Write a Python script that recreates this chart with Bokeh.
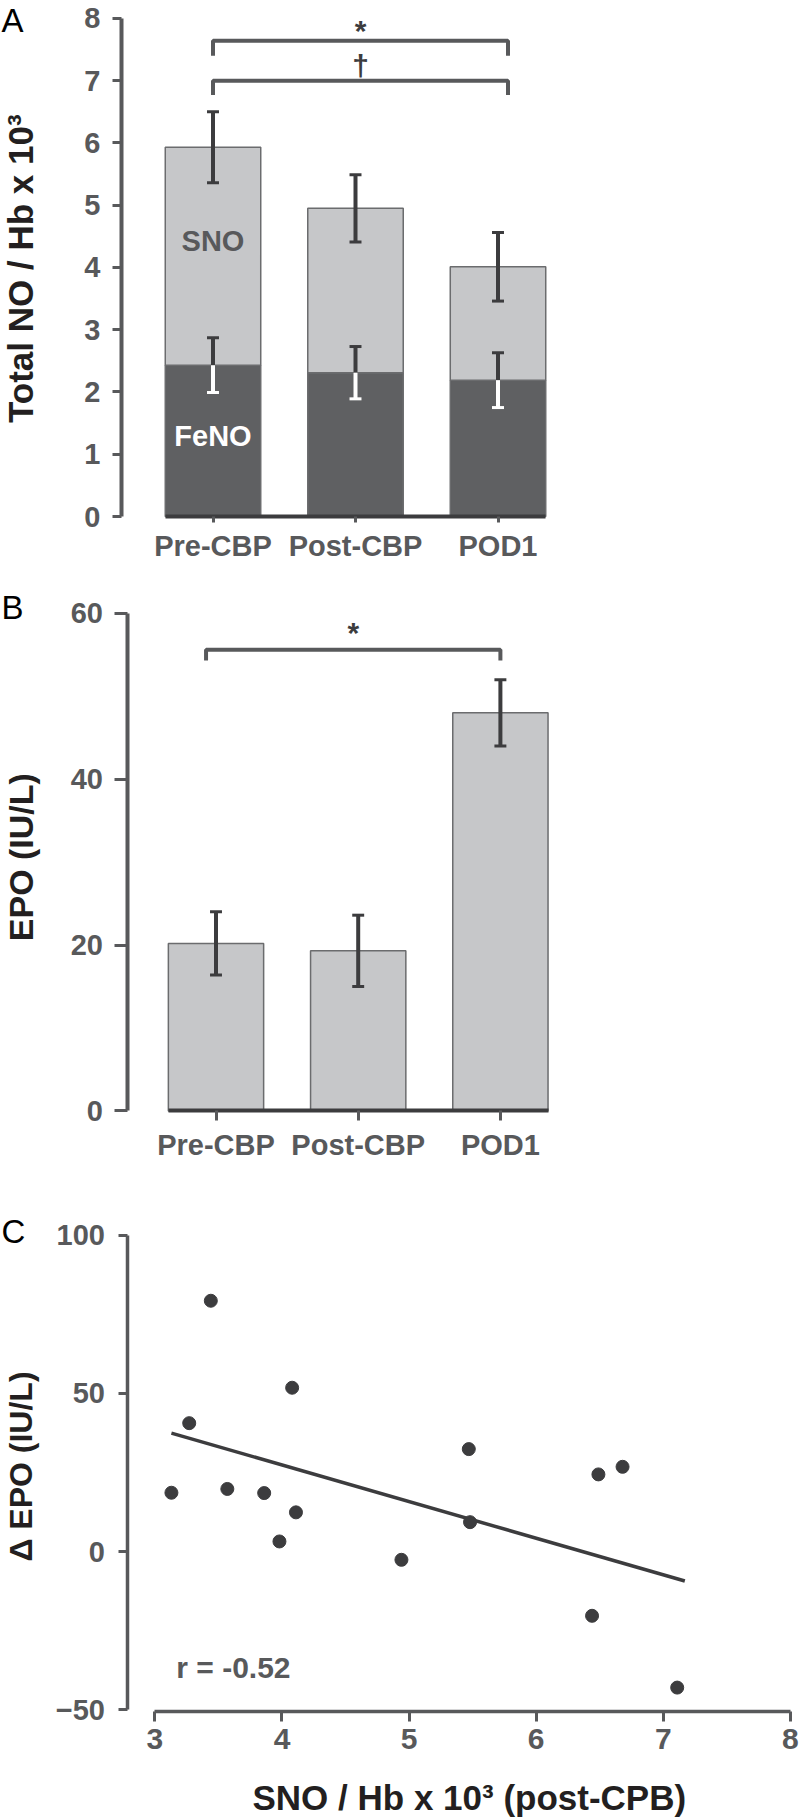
import numpy as np
from bokeh.plotting import figure
from bokeh.layouts import column
from bokeh.models import Range1d, FixedTicker, Label
from bokeh.embed import file_html
from bokeh.resources import INLINE

# ---------------- data ----------------
categories = ["Pre-CBP", "Post-CBP", "POD1"]

# Panel A: Total NO / Hb x 10^3 (stacked FeNO + SNO)
feno_mean = [2.43, 2.31, 2.19]
feno_err = [0.44, 0.42, 0.44]
sno_mean = [3.50, 2.64, 1.82]
total_err = [0.57, 0.54, 0.55]
a_yticks = [0, 1, 2, 3, 4, 5, 6, 7, 8]
a_bracket_pairs = [(0, 2.07), (0, 2.07)]
a_bracket_top = [7.64, 7.00]
a_bracket_leg = [7.40, 6.77]
a_bracket_sym = ["*", "\u2020"]
a_sym_y = [7.80, 7.25]

# Panel B: EPO (IU/L)
epo_mean = [20.2, 19.3, 48.0]
epo_err = [3.8, 4.3, 4.0]
b_yticks = [0, 20, 40, 60]
b_bracket_pairs = [(-0.07, 2.0)]
b_bracket_top = [55.6]
b_bracket_leg = [54.3]
b_bracket_sym = ["*"]
b_sym_y = [57.7]

# Panel C: delta EPO vs SNO/Hb (post-CPB)
sno_post = [3.13, 3.27, 3.44, 3.57, 3.86, 3.98, 4.08, 4.11, 4.94, 5.47, 5.48, 6.44, 6.49, 6.68, 7.11]
delta_epo = [18.6, 40.6, 79.3, 19.8, 18.5, 3.2, 51.8, 12.4, -2.6, 32.4, 9.3, -20.3, 24.4, 26.8, -43.0]
c_xticks = [3, 4, 5, 6, 7, 8]
c_yticks = [-50, 0, 50, 100]
r_text = "r = -0.52"

# ---------------- style ----------------
FONT = "Liberation Sans"
GRAY = "#58595b"
DARK = "#3c3c3e"
BLACK = "#231f20"
LIGHT_BAR = "#c6c7c9"
DARK_BAR = "#5f6062"
OUTLINE = "#6b6c6e"
BAR_W = 0.67
W = 799


def make_fig(h, xr, yr):
    p = figure(width=W, height=h, min_border=0, min_border_left=0,
               min_border_right=0, min_border_top=0, min_border_bottom=0,
               x_range=Range1d(*xr), y_range=Range1d(*yr),
               output_backend="svg", toolbar_location=None, tools="")
    p.outline_line_color = None
    p.xgrid.visible = False
    p.ygrid.visible = False
    p.background_fill_color = "white"
    p.border_fill_color = "white"
    return p


def style_axis(ax, loc, ticks, bounds, line_w, line_c, tick_out, label_size, standoff):
    ax.fixed_location = loc
    ax.ticker = FixedTicker(ticks=ticks)
    ax.bounds = bounds
    ax.axis_line_width = line_w
    ax.axis_line_color = line_c
    ax.major_tick_in = 0
    ax.major_tick_out = tick_out
    ax.major_tick_line_width = 3
    ax.major_tick_line_color = GRAY
    ax.minor_tick_line_color = None
    ax.major_label_text_font = FONT
    ax.major_label_text_font_style = "bold"
    ax.major_label_text_font_size = label_size
    ax.major_label_text_color = GRAY
    ax.major_label_standoff = standoff


def text_label(p, x, y, text, size, color=GRAY, bold=True, align="center",
               baseline="middle", angle=0.0):
    p.add_layout(Label(x=x, y=y, text=text, text_font=FONT,
                       text_font_style="bold" if bold else "normal",
                       text_font_size=size, text_color=color, text_align=align,
                       text_baseline=baseline, angle=angle))


def error_bars(p, xs, lo, hi, color, cap_lo=True, cap_hi=True, half=0.042, width=4):
    xs = np.asarray(xs, float)
    lo = np.asarray(lo, float)
    hi = np.asarray(hi, float)
    p.segment(xs, lo, xs, hi, line_color=color, line_width=width)
    if cap_hi:
        p.segment(xs - half, hi, xs + half, hi, line_color=color, line_width=3)
    if cap_lo:
        p.segment(xs - half, lo, xs + half, lo, line_color=color, line_width=3)


def brackets(p, pairs, tops, legs, syms, sym_y):
    for (a, b), t, l, s, sy in zip(pairs, tops, legs, syms, sym_y):
        p.line([a, a, b, b], [l, t, t, l], line_color=GRAY, line_width=4)
        text_label(p, (a + b) / 2, sy, s, "30px", color=DARK)


xs = np.arange(len(categories), dtype=float)
cat_labels = {i: c for i, c in enumerate(categories)}

# ---------------- Panel A ----------------
a_px_x, a_px_y, a_h = 142.5, 62.27, 568
a_xr = (-212.5 / a_px_x, -212.5 / a_px_x + W / a_px_x)
a_yr = (8.287 - a_h / a_px_y, 8.287)
a_axis_x = (121 - 212.5) / a_px_x
pa = make_fig(a_h, a_xr, a_yr)
feno = np.asarray(feno_mean)
total = feno + np.asarray(sno_mean)
pa.vbar(x=xs, width=BAR_W, bottom=0, top=feno, fill_color=DARK_BAR,
        line_color=OUTLINE, line_width=1.5)
pa.vbar(x=xs, width=BAR_W, bottom=feno, top=total, fill_color=LIGHT_BAR,
        line_color=OUTLINE, line_width=1.5)
error_bars(pa, xs, total - np.asarray(total_err), total + np.asarray(total_err), DARK)
error_bars(pa, xs, feno, feno + np.asarray(feno_err), DARK, cap_lo=False)
error_bars(pa, xs, feno - np.asarray(feno_err), feno, "white", cap_hi=False)
brackets(pa, a_bracket_pairs, a_bracket_top, a_bracket_leg, a_bracket_sym, a_sym_y)
text_label(pa, xs[0], 4.43, "SNO", "29px", color=GRAY)
text_label(pa, xs[0], 1.30, "FeNO", "29px", color="white")

style_axis(pa.yaxis[0], a_axis_x, a_yticks, (a_yticks[0], a_yticks[-1]), 4, GRAY, 9, "29px", 12)
style_axis(pa.xaxis[0], 0, list(xs), (xs[0] - BAR_W / 2, xs[-1] + BAR_W / 2), 4, DARK, 6, "29px", 7)
pa.xaxis[0].major_label_overrides = cat_labels
text_label(pa, a_xr[0] + 20 / a_px_x, 3.98, "Total NO / Hb x 10\u00b3", "35px",
           color=BLACK, angle=np.pi / 2)
text_label(pa, a_xr[0] + 1 / a_px_x, a_yr[1] - 1 / a_px_y, "A", "33px", color="black",
           bold=False, align="left", baseline="top")

# ---------------- Panel B ----------------
b_px_x, b_px_y, b_h = 142.2, 8.292, 607
b_xr = (-215.5 / b_px_x, -215.5 / b_px_x + W / b_px_x)
b_yr = (65.41 - b_h / b_px_y, 65.41)
b_axis_x = (127.4 - 215.5) / b_px_x
pb = make_fig(b_h, b_xr, b_yr)
epo = np.asarray(epo_mean)
pb.vbar(x=xs, width=BAR_W, bottom=0, top=epo, fill_color=LIGHT_BAR,
        line_color=OUTLINE, line_width=1.5)
error_bars(pb, xs, epo - np.asarray(epo_err), epo + np.asarray(epo_err), DARK)
brackets(pb, b_bracket_pairs, b_bracket_top, b_bracket_leg, b_bracket_sym, b_sym_y)
style_axis(pb.yaxis[0], b_axis_x, b_yticks, (b_yticks[0], b_yticks[-1]), 4, GRAY, 13, "29px", 12)
style_axis(pb.xaxis[0], 0, list(xs), (xs[0] - BAR_W / 2, xs[-1] + BAR_W / 2), 4, DARK, 10, "29px", 8)
pb.xaxis[0].major_label_overrides = cat_labels
text_label(pb, b_xr[0] + 20 / b_px_x, 30.6, "EPO (IU/L)", "34px",
           color=BLACK, angle=np.pi / 2)
text_label(pb, b_xr[0] + 1 / b_px_x, 62.88, "B", "33px", color="black",
           bold=False, align="left", baseline="top")

# ---------------- Panel C ----------------
c_px_x, c_px_y, c_h = 127.08, 3.163, 643
c_xr = (3 - 154.4 / c_px_x, 3 - 154.4 / c_px_x + W / c_px_x)
c_yr = (118.9 - c_h / c_px_y, 118.9)
c_axis_x = 3 - 27 / c_px_x
c_axis_y = -50.6
pc = make_fig(c_h, c_xr, c_yr)
sx = np.asarray(sno_post)
sy = np.asarray(delta_epo)
slope, intercept = np.polyfit(sx, sy, 1)
fit_x = np.array([sx.min(), sx.max() + 0.06])
pc.line(fit_x, slope * fit_x + intercept, line_color=DARK, line_width=3.5)
pc.scatter(sx, sy, marker="circle", size=13, fill_color=DARK, line_color=DARK)
style_axis(pc.yaxis[0], c_axis_x, c_yticks, (c_yticks[0], c_yticks[-1]), 3.5, GRAY, 9, "29px", 14)
style_axis(pc.xaxis[0], c_axis_y, c_xticks, (c_xticks[0], c_xticks[-1]), 3.5, GRAY, 10, "30px", 7)
text_label(pc, c_xr[0] + 175.8 / c_px_x, -36.8, r_text, "30px", color=GRAY, align="left")
text_label(pc, c_xr[0] + 20 / c_px_x, 26.9, "\u0394 EPO (IU/L)", "32px",
           color=BLACK, angle=np.pi / 2)
text_label(pc, c_xr[0] + 468.8 / c_px_x, -77.7, "SNO / Hb x 10\u00b3 (post-CPB)", "35px",
           color=BLACK)
text_label(pc, c_xr[0] + 1 / c_px_x, 107.2, "C", "33px", color="black",
           bold=False, align="left", baseline="top")

layout = column(pa, pb, pc)
open("out.html", "w").write(file_html(layout, INLINE, "Figure"))
